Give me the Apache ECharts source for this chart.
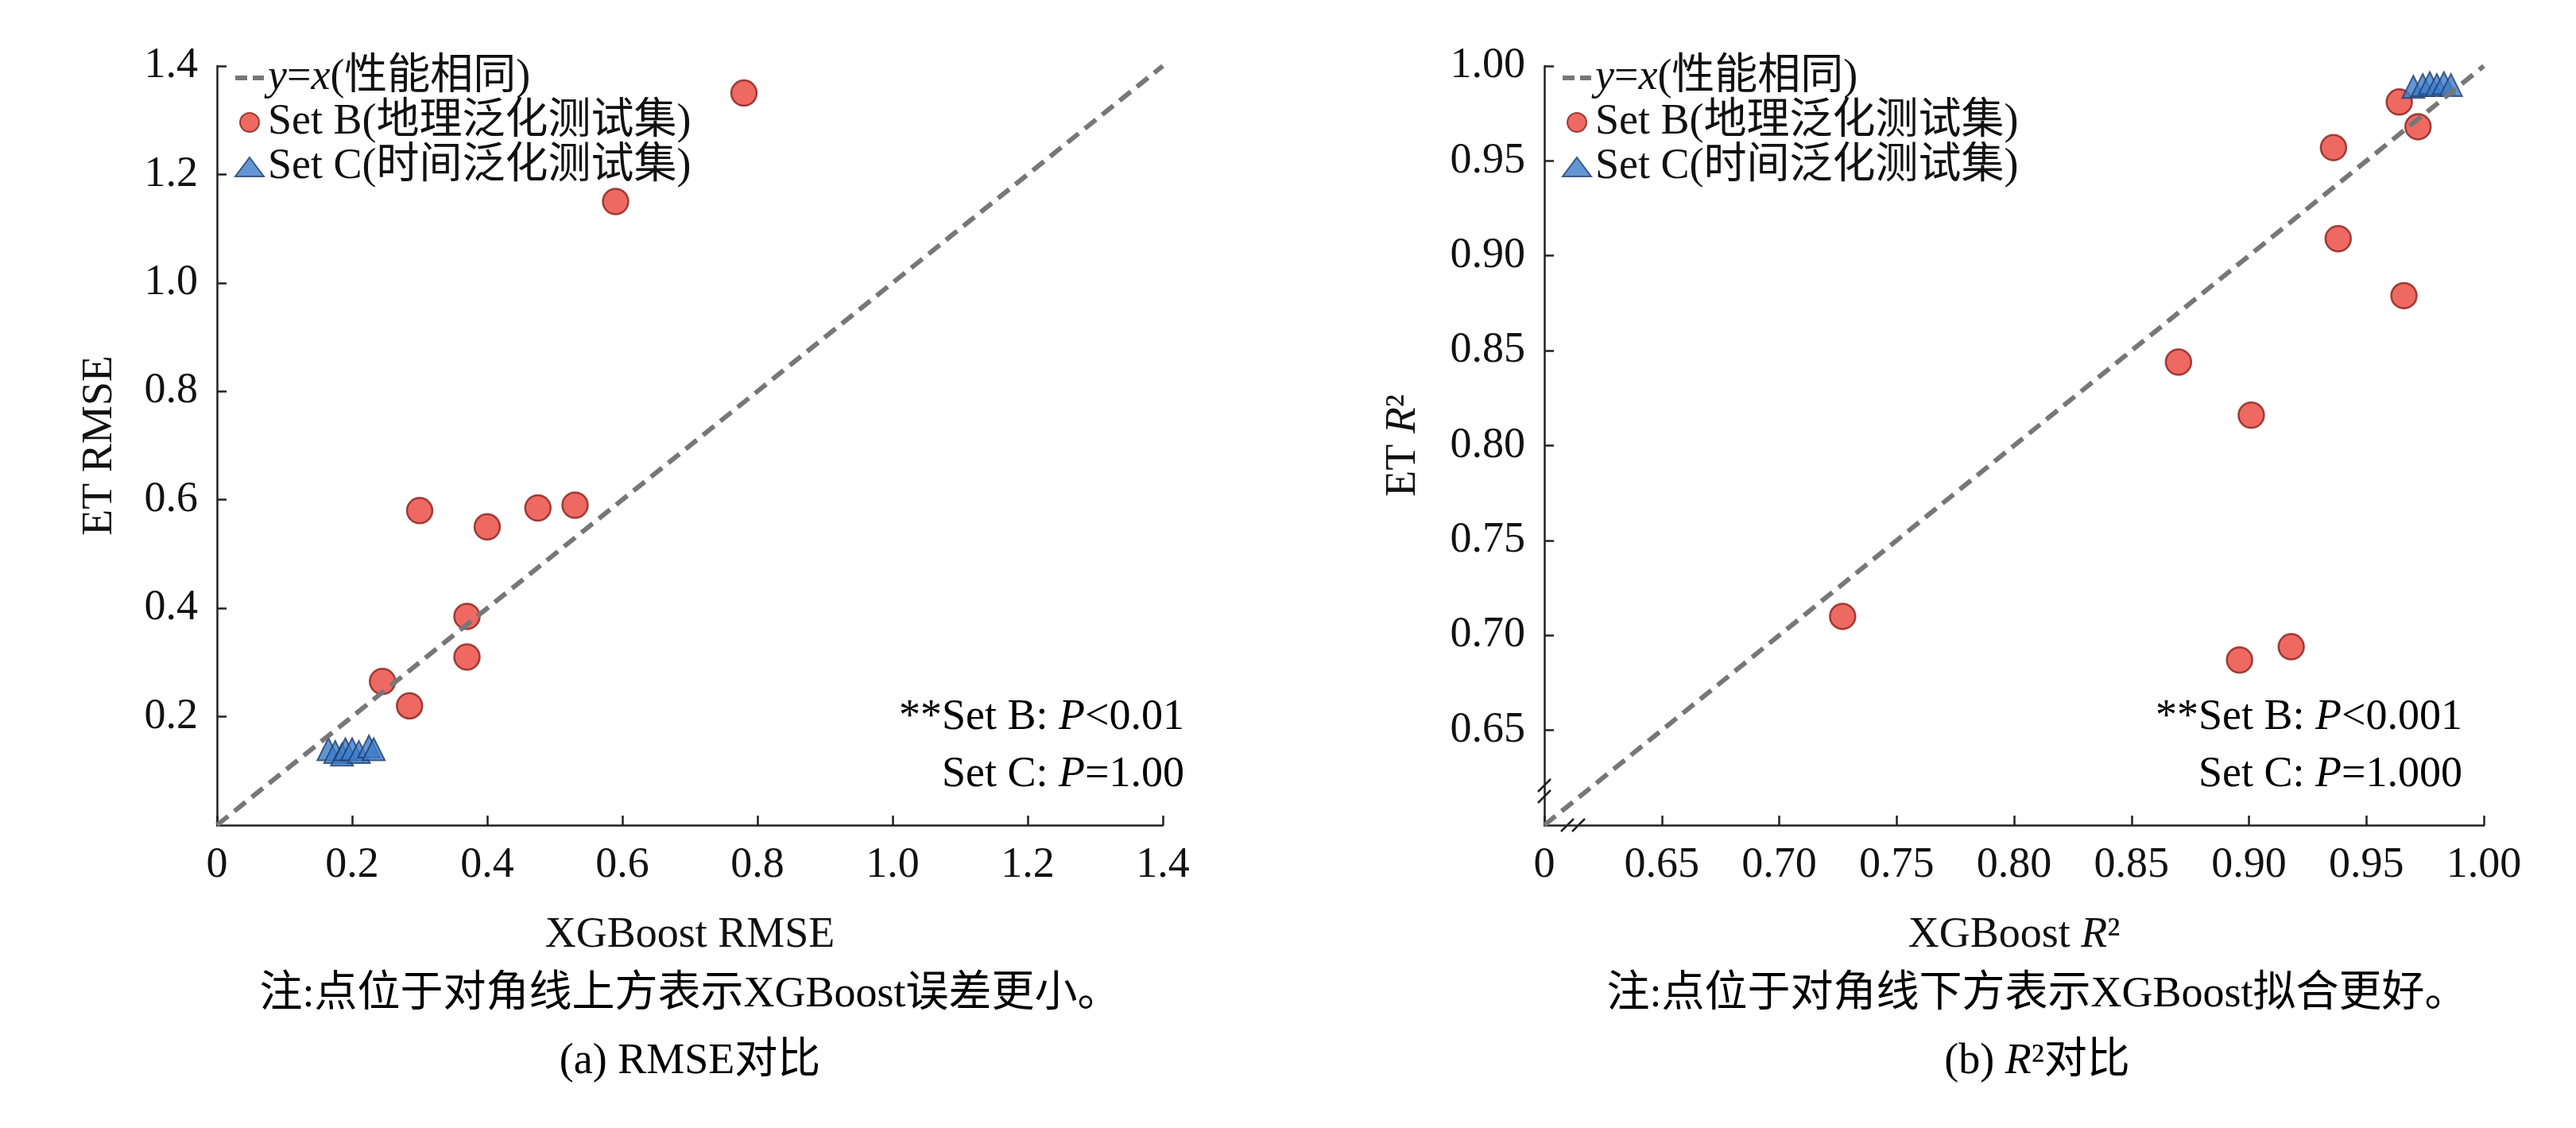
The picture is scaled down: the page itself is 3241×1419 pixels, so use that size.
<!DOCTYPE html>
<html>
<head>
<meta charset="utf-8">
<script src="https://cdn.jsdelivr.net/npm/echarts@6/dist/echarts.min.js"></script>
<style>
  html, body { margin: 0; padding: 0; background: #fff; }
  #chart { width: 3241px; height: 1419px; }
</style>
</head>
<body>
<div id="chart"></div>
<script>
// RMSE 对比 (a)
const rmseSetB = [
    [0.78, 1.35], [0.59, 1.15], [0.30, 0.58], [0.40, 0.55], [0.475, 0.585],
    [0.53, 0.59], [0.37, 0.385], [0.37, 0.31], [0.245, 0.265], [0.285, 0.22]
];
const rmseSetC = [
    [0.165, 0.14], [0.175, 0.135], [0.185, 0.13], [0.19, 0.14],
    [0.20, 0.14], [0.21, 0.135], [0.225, 0.145], [0.232, 0.14]
];
const rmseDiag = [[0, 0], [1.4, 1.4]];

// R² 对比 (b)
const r2SetB = [
    [0.964, 0.981], [0.972, 0.968], [0.936, 0.957], [0.938, 0.909], [0.966, 0.879],
    [0.870, 0.844], [0.901, 0.816], [0.727, 0.710], [0.896, 0.687], [0.918, 0.694]
];
const r2SetC = [
    [0.970, 0.989], [0.974, 0.990], [0.977, 0.991], [0.980, 0.990],
    [0.983, 0.991], [0.986, 0.990]
];
const r2Diag = [[0.6, 0.6], [1.0, 1.0]];

const FONT = "'Liberation Serif', 'Noto Sans CJK SC', serif";
const FS = 54;

const chart = echarts.init(document.getElementById("chart"));

function axisBase(extra) {
    return Object.assign({
        type: "value",
        axisLine: { show: true, lineStyle: { color: "#222", width: 2.5 } },
        axisTick: { show: true, inside: true, length: 12, lineStyle: { color: "#222", width: 2.5 } },
        splitLine: { show: false },
        nameTextStyle: { color: "#111", fontFamily: FONT, fontSize: FS },
    }, extra);
}
const lbl = (extra) => Object.assign({ color: "#111", fontFamily: FONT, fontSize: FS, margin: 24 }, extra);

const italic = { fontStyle: "italic", fontFamily: FONT, fontSize: FS, color: "#111" };
const circleStyle = { color: "#e8433b", borderColor: "#8a1f1a", borderWidth: 2.5 };
const triStyle = { color: "#3d7cc9", borderColor: "#1f3f6e", borderWidth: 2 };

chart.setOption({
    animation: false,
    grid: [
        { left: 273, width: 1190, top: 83, bottom: 381 },
        { left: 1943, width: 1182, top: 83, bottom: 381 },
    ],
    xAxis: [
        axisBase({
            gridIndex: 0, min: 0, max: 1.4, interval: 0.2,
            name: "XGBoost RMSE", nameLocation: "middle", nameGap: 112,
            axisLabel: lbl({ formatter: v => (v === 0 ? "0" : v.toFixed(1)) }),
        }),
        axisBase({
            gridIndex: 1, min: 0.6, max: 1.0, interval: 0.05,
            name: "{n|XGBoost }{i|R}{n|²}", nameLocation: "middle", nameGap: 112,
            nameTextStyle: { rich: { n: { fontFamily: FONT, fontSize: FS, color: "#111" }, i: italic } },
            axisLabel: lbl({ formatter: v => (Math.abs(v - 0.6) < 1e-6 ? "0" : v.toFixed(2)) }),
        }),
    ],
    yAxis: [
        axisBase({
            gridIndex: 0, min: 0, max: 1.4, interval: 0.2,
            name: "ET RMSE", nameLocation: "middle", nameGap: 120,
            axisLabel: lbl({ showMinLabel: false, formatter: v => v.toFixed(1) }),
        }),
        axisBase({
            gridIndex: 1, min: 0.6, max: 1.0, interval: 0.05,
            name: "{n|ET }{i|R}{n|²}", nameLocation: "middle", nameGap: 150,
            nameTextStyle: { rich: { n: { fontFamily: FONT, fontSize: FS, color: "#111" }, i: italic } },
            axisLabel: lbl({ showMinLabel: false, formatter: v => v.toFixed(2) }),
        }),
    ],
    legend: [0, 1].map(i => ({
        left: i === 0 ? 290 : 1960, top: 66, orient: "vertical", itemGap: 2,
        itemWidth: 36, itemHeight: 24,
        data: [
            { name: "diag" + i, icon: "path://M0,10 L15,10 L15,16 L0,16 Z M22,10 L36,10 L36,16 L22,16 Z",
              itemStyle: { color: "#777" } },
            { name: "B" + i }, { name: "C" + i },
        ],
        formatter: n => n.startsWith("diag") ? "{i|y}={i|x}(性能相同)"
            : n.startsWith("B") ? "Set B(地理泛化测试集)" : "Set C(时间泛化测试集)",
        textStyle: { fontFamily: FONT, fontSize: FS, color: "#111", rich: { i: italic } },
    })),
    series: [
        { name: "diag0", type: "line", xAxisIndex: 0, yAxisIndex: 0, data: rmseDiag, symbol: "none",
          lineStyle: { color: "#777", width: 6, type: [18, 10] }, itemStyle: { color: "#777" } },
        { name: "B0", type: "scatter", xAxisIndex: 0, yAxisIndex: 0, data: rmseSetB, symbolSize: 32, itemStyle: circleStyle },
        { name: "C0", type: "scatter", xAxisIndex: 0, yAxisIndex: 0, data: rmseSetC, symbol: "triangle", symbolSize: 28, itemStyle: triStyle },
        { name: "diag1", type: "line", xAxisIndex: 1, yAxisIndex: 1, data: r2Diag, symbol: "none",
          lineStyle: { color: "#777", width: 6, type: [18, 10] }, itemStyle: { color: "#777" } },
        { name: "B1", type: "scatter", xAxisIndex: 1, yAxisIndex: 1, data: r2SetB, symbolSize: 32, itemStyle: circleStyle },
        { name: "C1", type: "scatter", xAxisIndex: 1, yAxisIndex: 1, data: r2SetC, symbol: "triangle", symbolSize: 28, itemStyle: triStyle },
    ],
});

// 统计标注、说明文字、断轴符号
const origin = chart.convertToPixel({ xAxisIndex: 1, yAxisIndex: 1 }, [0.6, 0.6]);
const rich = { n: { fontFamily: FONT, fontSize: FS, color: "#111" }, i: italic };
function txt(x, y, text, align) {
    return { type: "text", x, y, style: { text, rich, align: align || "center", verticalAlign: "middle" } };
}
function brk(x, y, dx, dy) {
    return { type: "group", children: [-7, 7].map(o => ({
        type: "line", shape: { x1: x - 8 + (dx ? o : 0), y1: y + 8 + (dy ? o : 0), x2: x + 8 + (dx ? o : 0), y2: y - 8 + (dy ? o : 0) },
        style: { stroke: "#222", lineWidth: 2.5 } })) };
}
chart.setOption({
    graphic: [
        txt(1490, 903, "{n|**Set B: }{i|P}{n|<0.01}", "right"),
        txt(1490, 975, "{n|Set C: }{i|P}{n|=1.00}", "right"),
        txt(3098, 903, "{n|**Set B: }{i|P}{n|<0.001}", "right"),
        txt(3098, 975, "{n|Set C: }{i|P}{n|=1.000}", "right"),
        txt(868, 1252, "{n|注:点位于对角线上方表示XGBoost误差更小。}"),
        txt(868, 1336, "{n|(a) RMSE对比}"),
        txt(2563, 1252, "{n|注:点位于对角线下方表示XGBoost拟合更好。}"),
        txt(2563, 1336, "{n|(b) }{i|R}{n|²对比}"),
        { type: "rect", shape: { x: origin[0] + 30, y: origin[1] - 6, width: 26, height: 12 }, style: { fill: "#fff" } },
        brk(origin[0] + 36, origin[1], 1, 0),
        { type: "rect", shape: { x: origin[0] - 6, y: origin[1] - 56, width: 12, height: 26 }, style: { fill: "#fff" } },
        brk(origin[0], origin[1] - 43, 0, 1),
    ],
});
</script>
</body>
</html>
